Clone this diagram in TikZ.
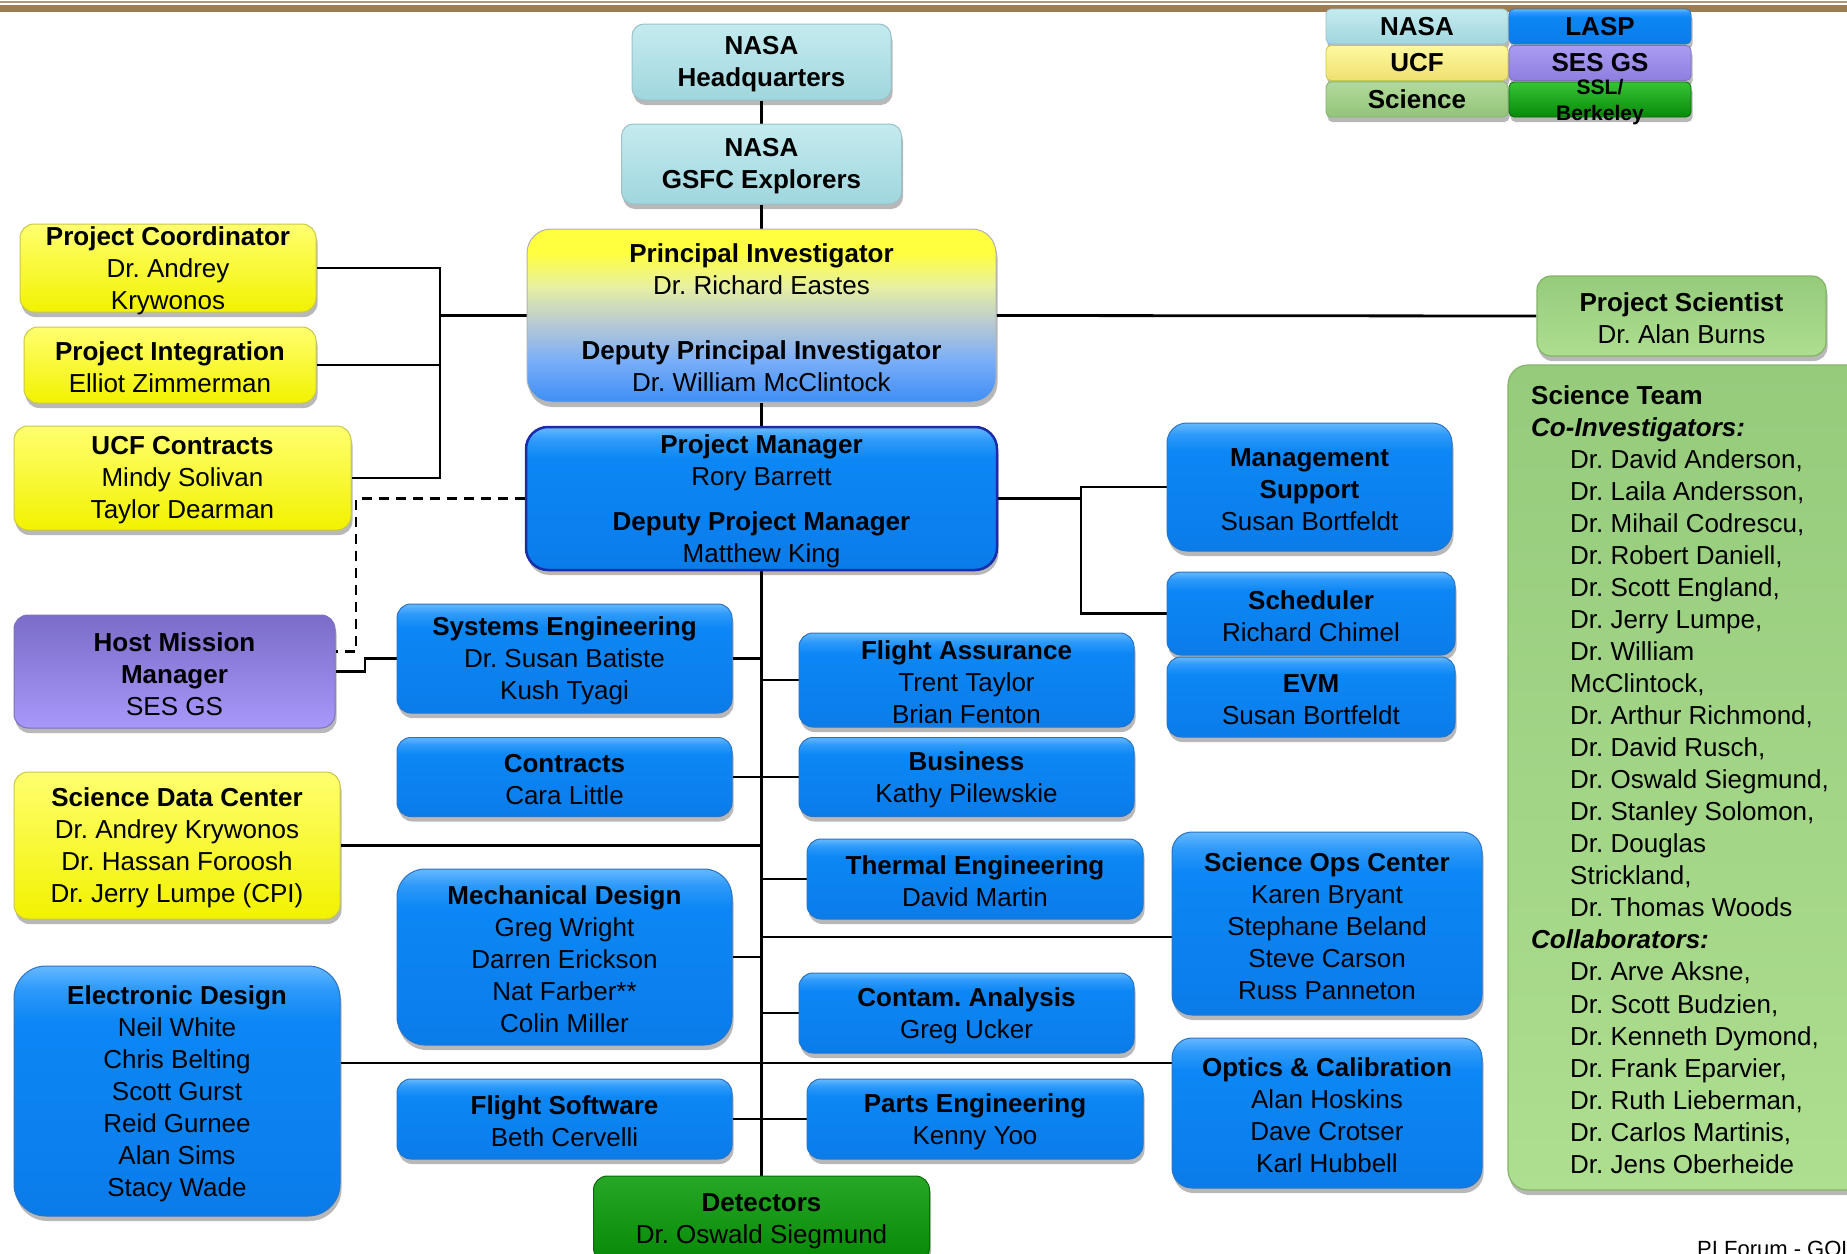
\documentclass[tikz,border=0pt]{standalone}
\usepackage{fontspec}
\setmainfont{Liberation Sans}
\usetikzlibrary{shadows}
\pgfdeclarelayer{back}
\pgfdeclarelayer{bg}
\pgfsetlayers{back,bg,main}
\frenchspacing
\definecolor{nasaT}{HTML}{C4EBEF}
\definecolor{nasaB}{HTML}{A0D6DE}
\definecolor{nasaD}{HTML}{9CC2C8}
\definecolor{yelT}{HTML}{FFFF70}
\definecolor{yelB}{HTML}{F2F200}
\definecolor{yelD}{HTML}{C8C84A}
\definecolor{bluA}{HTML}{0A7CEA}
\definecolor{bluB}{HTML}{0C87F5}
\definecolor{bluC}{HTML}{2E9AFA}
\definecolor{bluD}{HTML}{66B8FF}
\definecolor{bluE}{HTML}{2A74C8}
\definecolor{pmD}{HTML}{1A2CA8}
\definecolor{purT}{HTML}{7A6CC8}
\definecolor{purB}{HTML}{A898FA}
\definecolor{purD}{HTML}{7E70C0}
\definecolor{grnT}{HTML}{26A826}
\definecolor{grnB}{HTML}{078807}
\definecolor{grnD}{HTML}{0A6A0A}
\definecolor{sciT}{HTML}{96CB7C}
\definecolor{sciB}{HTML}{AEDE90}
\definecolor{sciD}{HTML}{84B46A}
\definecolor{piB}{HTML}{3E8EF5}
\definecolor{piB2}{HTML}{7AAEF8}
\definecolor{piM}{HTML}{BCCCD0}
\definecolor{piY2}{HTML}{E8F0A0}
\definecolor{piY}{HTML}{FFFF40}
\definecolor{lucT}{HTML}{FFF8A0}
\definecolor{lucB}{HTML}{EEE070}
\definecolor{lsesT}{HTML}{AA9CF2}
\definecolor{lsesB}{HTML}{8E7EE0}
\definecolor{lsciT}{HTML}{B2DA9A}
\definecolor{lsciB}{HTML}{92C47A}
\definecolor{lsslT}{HTML}{36C436}
\definecolor{lsslB}{HTML}{088A08}
\definecolor{barc}{HTML}{9C7C52}
\pgfdeclareverticalshading{blueshade}{100bp}{color(0bp)=(bluA); color(25bp)=(bluA); color(64bp)=(bluB); color(70.5bp)=(bluC); color(75bp)=(bluD); color(100bp)=(bluD)}
\pgfdeclareverticalshading{pishade}{100bp}{color(0bp)=(piB); color(25bp)=(piB); color(37bp)=(piB2); color(48.5bp)=(piM); color(58.5bp)=(piY2); color(68bp)=(piY); color(100bp)=(piY)}
\newcommand\hdr[1]{\textbf{#1}}
\newcommand\fs{\fontsize{26}{32}\selectfont}
\newcommand\lgf{\fontsize{26}{30}\selectfont\bfseries}
\newcommand\obox[7]{%
  \node[#1, minimum width=#5pt, minimum height=#6pt] (#2) at (#3,#4) {};
  \node[txt] (#2-t) at (#2.center) {#7};}
\tikzset{
  sh/.style={drop shadow={shadow xshift=1.5pt, shadow yshift=-5pt, opacity=0.28, fill=black}},
  box/.style={rounded corners=14pt, inner sep=0pt, sh},
  bbox/.style={box, shade, shading=blueshade, draw=bluE, line width=1pt},
  pmbox/.style={box, shade, shading=blueshade, draw=pmD, line width=2.5pt, rounded corners=22pt},
  pibox/.style={box, shade, shading=pishade, draw=black!30, line width=1pt, rounded corners=24pt},
  nasabox/.style={box, top color=nasaT, bottom color=nasaB, draw=nasaD, line width=1pt, rounded corners=12pt},
  ybox/.style={box, top color=yelT, bottom color=yelB, draw=yelD, line width=1pt},
  pbox/.style={box, top color=purT, bottom color=purB, draw=purD, line width=1pt},
  gbox/.style={box, top color=grnT, bottom color=grnB, draw=grnD, line width=1pt},
  sbox/.style={box, top color=sciT, bottom color=sciB, draw=sciD, line width=1.2pt},
  txt/.style={align=center, inner sep=0pt, font=\fs, yshift=-2.5pt},
  lg/.style={rounded corners=5pt, inner sep=0pt, minimum width=182pt, minimum height=35pt, line width=0.8pt, font=\lgf},
  conn/.style={line width=2.8pt, black, line join=miter},
  dsh/.style={dash pattern=on 10pt off 7pt}
}
\begin{document}
\begin{tikzpicture}[x=1pt,y=-1pt]
\useasboundingbox (0,0) rectangle (1847,1253);
\begin{pgfonlayer}{back}
\fill[white] (0,0) rectangle (1847,1253);
\end{pgfonlayer}
% top bar
\fill[barc!80] (0,1.3) rectangle (1847,3.3);
\fill[barc] (0,5) rectangle (1847,12.3);
% legend
\node[lg, top color=nasaT, bottom color=nasaB, draw=nasaD, sh] (lnasa) at (1417,26.5) {NASA};
\node[lg, shade, shading=blueshade, draw=bluE, sh] (llasp) at (1600,26.5) {LASP};
\node[lg, top color=lucT, bottom color=lucB, draw=yelD, sh] (lucf) at (1417,63) {UCF};
\node[lg, top color=lsesT, bottom color=lsesB, draw=purD, sh] (lses) at (1600,63) {SES GS};
\node[lg, top color=lsciT, bottom color=lsciB, draw=sciD, sh] (lsci) at (1417,99.5) {Science};
\node[lg, top color=lsslT, bottom color=lsslB, draw=grnD, sh] (lssl) at (1600,99.5) {};
\node[align=center, inner sep=0pt, font=\fontsize{21}{26}\selectfont\bfseries] (lssl-t) at (1600,102) {SSL/\\Berkeley};
% boxes
\obox{nasabox}{hq}{761.5}{62}{259}{76}{\hdr{NASA}\\\hdr{Headquarters}}
\obox{nasabox}{gsfc}{761.5}{164}{280}{80}{\hdr{NASA}\\\hdr{GSFC Explorers}}
\obox{pibox}{pi}{761.5}{315.5}{469}{173}{\hdr{Principal Investigator}\\Dr. Richard Eastes\\[33pt]\hdr{Deputy Principal Investigator}\\Dr. William McClintock}
\obox{pmbox}{pm}{761.5}{498.5}{471}{143}{\hdr{Project Manager}\\Rory Barrett\\[13pt]\hdr{Deputy Project Manager}\\Matthew King}
\obox{ybox}{pc}{168}{268}{296}{88}{\hdr{Project Coordinator}\\Dr. Andrey\\Krywonos}
\obox{ybox}{pint}{170}{365}{292}{76}{\hdr{Project Integration}\\Elliot Zimmerman}
\obox{ybox}{ucf}{182.5}{478}{337}{104}{\hdr{UCF Contracts}\\Mindy Solivan\\Taylor Dearman}
\obox{pbox}{hmm}{174.5}{671.5}{321}{113}{\hdr{Host Mission}\\\hdr{Manager}\\SES GS}
\obox{ybox}{sdc}{177}{845.5}{326}{147}{\hdr{Science Data Center}\\Dr. Andrey Krywonos\\Dr. Hassan Foroosh\\Dr. Jerry Lumpe (CPI)}
\obox{bbox, rounded corners=32pt}{ed}{177}{1091}{326}{250}{\hdr{Electronic Design}\\Neil White\\Chris Belting\\Scott Gurst\\Reid Gurnee\\Alan Sims\\Stacy Wade}
\obox{bbox}{se}{564.5}{658.5}{335}{109}{\hdr{Systems Engineering}\\Dr. Susan Batiste\\Kush Tyagi}
\obox{bbox}{con}{564.5}{777}{335}{79}{\hdr{Contracts}\\Cara Little}
\obox{bbox, rounded corners=28pt}{md}{564.5}{957}{335}{176}{\hdr{Mechanical Design}\\Greg Wright\\Darren Erickson\\Nat Farber**\\Colin Miller}
\obox{bbox}{fsw}{564.5}{1119}{335}{80}{\hdr{Flight Software}\\Beth Cervelli}
\obox{gbox}{det}{761.5}{1219}{336}{86}{\hdr{Detectors}\\Dr. Oswald Siegmund}
\obox{bbox}{fa}{966.5}{680}{335}{94}{\hdr{Flight Assurance}\\Trent Taylor\\Brian Fenton}
\obox{bbox}{bus}{966.5}{777}{335}{79}{\hdr{Business}\\Kathy Pilewskie}
\obox{bbox}{th}{975}{879}{336}{80}{\hdr{Thermal Engineering}\\David Martin}
\obox{bbox}{ca}{966.5}{1013}{335}{80}{\hdr{Contam. Analysis}\\Greg Ucker}
\obox{bbox}{pe}{975}{1119}{336}{80}{\hdr{Parts Engineering}\\Kenny Yoo}
\obox{bbox, rounded corners=20pt}{ms}{1309.5}{487}{285}{128}{\hdr{Management}\\\hdr{Support}\\Susan Bortfeldt}
\obox{bbox}{sch}{1311}{613.5}{288}{83}{\hdr{Scheduler}\\Richard Chimel}
\obox{bbox}{evm}{1311}{697}{288}{80}{\hdr{EVM}\\Susan Bortfeldt}
\obox{bbox, rounded corners=20pt}{soc}{1327}{923.5}{310}{183}{\hdr{Science Ops Center}\\Karen Bryant\\Stephane Beland\\Steve Carson\\Russ Panneton}
\obox{bbox, rounded corners=20pt}{oc}{1327}{1113}{310}{150}{\hdr{Optics \& Calibration}\\Alan Hoskins\\Dave Crotser\\Karl Hubbell}
\obox{sbox}{ps}{1681.5}{316}{289}{80}{\hdr{Project Scientist}\\Dr. Alan Burns}
\node[sbox, rounded corners=20pt, minimum width=362pt, minimum height=825pt] (st) at (1689,777.5) {};
\node[anchor=north west, align=left, inner sep=0pt, font=\fontsize{26}{32.05}\selectfont] (st-t) at (1531,385) {%
\hdr{Science Team}\\
\textbf{\textit{Co-Investigators:}}\\
\hspace*{39pt}Dr. David Anderson,\\
\hspace*{39pt}Dr. Laila Andersson,\\
\hspace*{39pt}Dr. Mihail Codrescu,\\
\hspace*{39pt}Dr. Robert Daniell,\\
\hspace*{39pt}Dr. Scott England,\\
\hspace*{39pt}Dr. Jerry Lumpe,\\
\hspace*{39pt}Dr. William\\
\hspace*{39pt}McClintock,\\
\hspace*{39pt}Dr. Arthur Richmond,\\
\hspace*{39pt}Dr. David Rusch,\\
\hspace*{39pt}Dr. Oswald Siegmund,\\
\hspace*{39pt}Dr. Stanley Solomon,\\
\hspace*{39pt}Dr. Douglas\\
\hspace*{39pt}Strickland,\\
\hspace*{39pt}Dr. Thomas Woods\\
\textbf{\textit{Collaborators:}}\\
\hspace*{39pt}Dr. Arve Aksne,\\
\hspace*{39pt}Dr. Scott Budzien,\\
\hspace*{39pt}Dr. Kenneth Dymond,\\
\hspace*{39pt}Dr. Frank Eparvier,\\
\hspace*{39pt}Dr. Ruth Lieberman,\\
\hspace*{39pt}Dr. Carlos Martinis,\\
\hspace*{39pt}Dr. Jens Oberheide};
\node[anchor=base west, inner sep=0pt, font=\fontsize{22}{26}\selectfont] (foot) at (1697,1256) {PI Forum - GOLD};
% connectors
\begin{pgfonlayer}{bg}
\draw[conn] (hq.south) -- (gsfc.north);
\draw[conn] (gsfc.south) -- (pi.north);
\draw[conn] (pi.south) -- (pm.north);
\draw[conn] (pm.south) -- (det.north);
\coordinate (lb) at (440,0);
\draw[conn] (pc.east) -- (pc.east -| lb) -- (ucf.east -| lb) -- (ucf.east);
\draw[conn] (pint.east) -- (pint.east -| lb);
\draw[conn] (pi.west) -- (pi.west -| lb);
\draw[conn] (pi.east) -- (ps.west);
\coordinate (rb) at (1081,0);
\draw[conn] (pm.east) -- (pm.east -| rb);
\draw[conn] (ms.west) -- (ms.west -| rb) -- (sch.west -| rb) -- (sch.west);
\coordinate (dx) at (356,0);
\coordinate (hmmtop) at ([yshift=20pt]hmm.east);
\draw[conn, dsh] (pm.west) -- (pm.west -| dx) -- (dx |- hmmtop) -- (hmmtop);
\coordinate (hx) at (365,0);
\draw[conn] (hmm.east) -| (hx |- se.west) -- (se.west);
\draw[conn] (se.east) -- (se.east -| pm.south);
\draw[conn] (fa.west) -- (fa.west -| pm.south);
\draw[conn] (con.east) -- (bus.west);
\draw[conn] (sdc.east) -- (sdc.east -| pm.south);
\draw[conn] (th.west) -- (th.west -| pm.south);
\coordinate (socl) at ([yshift=-13.5pt]soc.west);
\draw[conn] (socl) -- (socl -| pm.south);
\draw[conn] (md.east) -- (md.east -| pm.south);
\draw[conn] (ca.west) -- (ca.west -| pm.south);
\coordinate (edr) at ([yshift=28pt]ed.east);
\draw[conn] (edr) -- (edr -| oc.west);
\draw[conn] (fsw.east) -- (pe.west);
\end{pgfonlayer}
\end{tikzpicture}
\end{document}
